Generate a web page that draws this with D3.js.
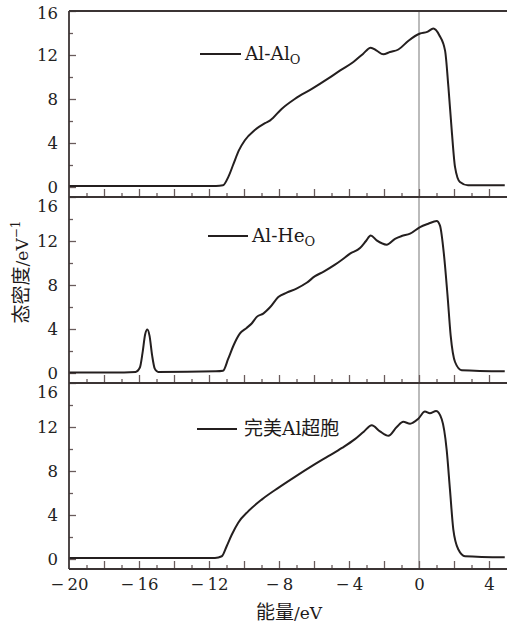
<!DOCTYPE html>
<html>
<head>
<meta charset="utf-8">
<script src="https://cdn.jsdelivr.net/npm/d3@7"></script>
<style>
body { margin: 0; background: #fff; }
</style>
</head>
<body>
<svg id="chart"></svg>
<script>
// energies in eV, DOS in states/eV
const energyAlAl = [-20, -11.6, -11.2, -10.9, -10.6, -10.3, -9.95, -9.4, -8.8, -8.5, -7.85, -7.1, -6.1, -5.2, -4.5, -3.75, -3.2, -2.76, -2.42, -2.04, -1.66, -1.18, -0.6, 0.06, 0.47, 0.82, 1.16, 1.49, 1.68, 1.87, 2.06, 2.34, 2.8, 4.9]
const dosAlAl = [0.1, 0.1, 0.15, 0.9, 2.1, 3.3, 4.25, 5.15, 5.8, 6.06, 7.1, 8.0, 8.94, 9.85, 10.6, 11.36, 12.1, 12.67, 12.4, 12.06, 12.27, 12.5, 13.3, 13.95, 14.1, 14.4, 13.8, 12.4, 9.1, 5.15, 1.8, 0.45, 0.15, 0.15]

const energyAlHe = [-20, -17.5, -16.2, -15.95, -15.8, -15.65, -15.52, -15.4, -15.25, -15.1, -14.9, -11.6, -11.2, -10.9, -10.6, -10.23, -9.85, -9.56, -9.27, -8.9, -8.5, -8.04, -7.56, -7.0, -6.42, -5.94, -5.47, -4.8, -4.4, -3.94, -3.37, -3.03, -2.76, -2.42, -1.85, -1.37, -0.99, -0.51, 0.06, 0.53, 1.01, 1.2, 1.43, 1.63, 1.81, 2.06, 2.44, 4.9]
const dosAlHe = [0.05, 0.05, 0.1, 0.5, 1.8, 3.5, 3.95, 3.4, 1.6, 0.4, 0.1, 0.15, 0.2, 1.3, 2.5, 3.6, 4.1, 4.5, 5.1, 5.4, 6.0, 6.9, 7.3, 7.67, 8.2, 8.8, 9.2, 9.85, 10.3, 10.85, 11.36, 12.0, 12.5, 12.06, 11.67, 12.2, 12.45, 12.67, 13.27, 13.57, 13.82, 13.4, 10.7, 7.06, 3.4, 1.0, 0.25, 0.15]

const energyPerfect = [-20, -11.66, -11.27, -10.99, -10.7, -10.33, -9.75, -8.99, -8.04, -7.09, -6.13, -5.18, -4.4, -3.66, -3.14, -2.7, -2.23, -1.75, -1.27, -0.9, -0.51, -0.04, 0.34, 0.62, 0.98, 1.3, 1.58, 1.77, 1.96, 2.25, 2.63, 4.9]
const dosPerfect = [0.1, 0.1, 0.25, 1.16, 2.2, 3.3, 4.35, 5.4, 6.47, 7.47, 8.44, 9.35, 10.1, 10.9, 11.6, 12.16, 11.6, 11.2, 12.0, 12.47, 12.3, 12.75, 13.4, 13.25, 13.45, 12.7, 9.95, 6.3, 2.7, 0.86, 0.25, 0.15]

const xMajorTicks = [-18, -16, -14, -12, -10, -8, -6, -4, -2, 0, 2, 4]
const xMinorTicks = [-19, -17, -15, -13, -11, -9, -7, -5, -3, -1, 1, 3]
const xTickLabels = [-20, -16, -12, -8, -4, 0, 4]
const yMajorTicks = [0, 4, 8, 12, 16]
const yMinorTicks = [2, 6, 10, 14]

const serif = "'DejaVu Serif', 'Liberation Serif', serif"
const cjk = "'Noto Sans CJK SC', sans-serif"

class DosPanels {
    constructor() {
        this.visWidth = 508
        this.visHeight = 628
        this.panelTops = [11, 197, 383]
        this.panelHeight = 186
        this.left = 69
        this.right = 507

        this.series = [
            {energy: energyAlAl, dos: dosAlAl},
            {energy: energyAlHe, dos: dosAlHe},
            {energy: energyPerfect, dos: dosPerfect}
        ]
        // legend placement per panel (px, relative to panel top)
        this.legends = [
            {x1: 200, x2: 241, dy: 43, tx: 245},
            {x1: 208, x2: 248, dy: 39, tx: 252},
            {x1: 197, x2: 237, dy: 46, tx: 244}
        ]

        this.scaleX = d3.scaleLinear().domain([-20, 5]).range([this.left, 506.5])
        this.scalesY = this.panelTops.map(t => d3.scaleLinear().domain([-10/11, 16]).range([t + this.panelHeight, t]))

        this.svg = d3.select("#chart").attr("width", this.visWidth).attr("height", this.visHeight)

        this.drawZeroLine()
        this.drawAxes()
        this.drawLines()
        this.drawFrame()
        this.drawLegends()
        this.drawAxisLabels()
    }

    drawZeroLine() {
        this.svg.append("line")
            .attr("x1", this.scaleX(0)).attr("x2", this.scaleX(0))
            .attr("y1", this.panelTops[0]).attr("y2", this.panelTops[2] + this.panelHeight)
            .attr("stroke", "#a4a4a4").attr("stroke-width", 1.5)
    }

    drawAxes() {
        this.scalesY.forEach((scaleY, i) => {
            let bottom = this.panelTops[i] + this.panelHeight
            let g = this.svg.append("g").attr("class", "panel-axes")

            let yMajor = g.append("g").attr("transform", `translate(${this.left},0)`)
                .call(d3.axisLeft(scaleY).tickValues(yMajorTicks).tickSize(-7).tickPadding(11))
            g.append("g").attr("transform", `translate(${this.left},0)`)
                .call(d3.axisLeft(scaleY).tickValues(yMinorTicks).tickSize(-4).tickFormat(""))
            // top label of the lower panels sits a bit lower so it does not hit the "0" above
            yMajor.selectAll(".tick text").filter(d => d === 16).attr("y", i > 0 ? 9 : 2)

            g.append("g").attr("transform", `translate(0,${bottom})`)
                .call(d3.axisBottom(this.scaleX).tickValues(xMajorTicks).tickSize(-8).tickFormat(""))
            g.append("g").attr("transform", `translate(0,${bottom})`)
                .call(d3.axisBottom(this.scaleX).tickValues(xMinorTicks).tickSize(-4).tickFormat(""))

            if (i === 2) {
                g.append("g").attr("transform", `translate(0,${bottom})`)
                    .call(d3.axisBottom(this.scaleX).tickValues(xTickLabels).tickSize(0).tickPadding(9)
                        .tickFormat(d => d < 0 ? "\u2212\u2009" + Math.abs(d) : d))
            }

            g.selectAll(".domain").remove()
            g.attr("font-family", serif)
            g.selectAll(".tick line").attr("stroke", "#6a5c5c").attr("stroke-width", 1.3)
            g.selectAll(".tick text").attr("fill", "#222").attr("font-size", 16.5)
                .attr("font-family", serif).style("font-weight", 300)
        })
    }

    drawLines() {
        this.series.forEach((s, i) => {
            let scaleY = this.scalesY[i]
            let points = s.energy.map((e, k) => [e, s.dos[k]])
            let lineGenerator = d3.line()
                .x(d => this.scaleX(d[0]))
                .y(d => scaleY(d[1]))
                .curve(d3.curveMonotoneX)
            this.svg.append("path")
                .attr("d", lineGenerator(points))
                .attr("fill", "none")
                .attr("stroke", "#241f1f")
                .attr("stroke-width", 2)
                .attr("stroke-linejoin", "round")
        })
    }

    drawFrame() {
        let frame = this.svg.append("g").attr("stroke", "#3b3434").attr("stroke-width", 1.8)
        let bottom = this.panelTops[2] + this.panelHeight
        frame.append("line").attr("x1", this.left).attr("x2", this.left).attr("y1", this.panelTops[0]).attr("y2", bottom)
        this.panelTops.concat([bottom]).forEach(y => {
            frame.append("line").attr("x1", this.left).attr("x2", this.right).attr("y1", y).attr("y2", y)
        })
    }

    drawLegends() {
        this.legends.forEach((l, i) => {
            let y = this.panelTops[i] + l.dy
            this.svg.append("line").attr("x1", l.x1).attr("x2", l.x2).attr("y1", y).attr("y2", y)
                .attr("stroke", "#241f1f").attr("stroke-width", 2.2)
            let t = this.svg.append("text").attr("x", l.tx).attr("y", y + 6)
                .attr("fill", "#1e1a1a").attr("font-family", serif).attr("font-size", 18.5)
            if (i === 0) {
                t.append("tspan").text("Al-Al")
                t.append("tspan").text("O").attr("font-size", 13).attr("dy", 4)
            } else if (i === 1) {
                t.append("tspan").text("Al-He")
                t.append("tspan").text("O").attr("font-size", 13).attr("dy", 4)
            } else {
                t.append("tspan").text("完美").attr("font-family", cjk).attr("font-size", 19)
                t.append("tspan").text("Al")
                t.append("tspan").text("超胞").attr("font-family", cjk).attr("font-size", 19)
            }
        })
    }

    drawAxisLabels() {
        let xl = this.svg.append("text").attr("x", 289).attr("y", 619)
            .attr("text-anchor", "middle").attr("fill", "#1e1a1a").attr("font-family", serif).attr("font-size", 17)
        xl.append("tspan").text("能量").attr("font-family", cjk).attr("font-size", 19)
        xl.append("tspan").text("/eV")

        let yl = this.svg.append("text").attr("transform", "translate(28,272) rotate(-90)")
            .attr("text-anchor", "middle").attr("fill", "#1e1a1a").attr("font-family", serif).attr("font-size", 17)
        yl.append("tspan").text("态密度").attr("font-family", cjk).attr("font-size", 19)
        yl.append("tspan").text("/eV")
        yl.append("tspan").text("\u22121").attr("font-size", 12).attr("dy", -8)
    }
}

new DosPanels()
</script>
</body>
</html>
